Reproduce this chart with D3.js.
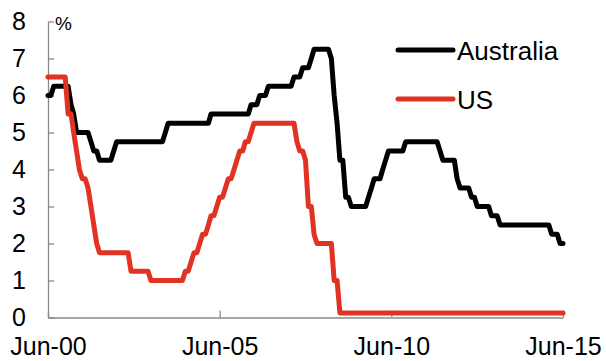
<!DOCTYPE html>
<html>
<head>
<meta charset="utf-8">
<script src="https://cdn.jsdelivr.net/npm/d3@7"></script>
<style>
  html, body { margin: 0; padding: 0; background: #fff; }
  svg { display: block; font-family: "Liberation Sans", Arial, sans-serif; }
</style>
</head>
<body>
<svg id="chart" width="606" height="361"></svg>
<script>
// ---- Data (monthly, Jun-2000 to Jun-2015) ----
const startMonth = "2000-06";
const australia = [
  // 2000 Jun-Dec
  6.0, 6.0, 6.25, 6.25, 6.25, 6.25, 6.25,
  // 2001
  6.25, 5.75, 5.5, 5.0, 5.0, 5.0, 5.0, 5.0, 4.75, 4.5, 4.5, 4.25,
  // 2002
  4.25, 4.25, 4.25, 4.25, 4.5, 4.75, 4.75, 4.75, 4.75, 4.75, 4.75, 4.75,
  // 2003
  4.75, 4.75, 4.75, 4.75, 4.75, 4.75, 4.75, 4.75, 4.75, 4.75, 5.0, 5.25,
  // 2004
  5.25, 5.25, 5.25, 5.25, 5.25, 5.25, 5.25, 5.25, 5.25, 5.25, 5.25, 5.25,
  // 2005
  5.25, 5.25, 5.5, 5.5, 5.5, 5.5, 5.5, 5.5, 5.5, 5.5, 5.5, 5.5,
  // 2006
  5.5, 5.5, 5.5, 5.5, 5.75, 5.75, 5.75, 6.0, 6.0, 6.0, 6.25, 6.25,
  // 2007
  6.25, 6.25, 6.25, 6.25, 6.25, 6.25, 6.25, 6.5, 6.5, 6.5, 6.75, 6.75,
  // 2008
  6.75, 7.0, 7.25, 7.25, 7.25, 7.25, 7.25, 7.25, 7.0, 6.0, 5.25, 4.25,
  // 2009
  4.25, 3.25, 3.25, 3.0, 3.0, 3.0, 3.0, 3.0, 3.0, 3.25, 3.5, 3.75,
  // 2010
  3.75, 3.75, 4.0, 4.25, 4.5, 4.5, 4.5, 4.5, 4.5, 4.5, 4.75, 4.75,
  // 2011
  4.75, 4.75, 4.75, 4.75, 4.75, 4.75, 4.75, 4.75, 4.75, 4.75, 4.5, 4.25,
  // 2012
  4.25, 4.25, 4.25, 4.25, 3.75, 3.5, 3.5, 3.5, 3.5, 3.25, 3.25, 3.0,
  // 2013
  3.0, 3.0, 3.0, 3.0, 2.75, 2.75, 2.75, 2.5, 2.5, 2.5, 2.5, 2.5,
  // 2014
  2.5, 2.5, 2.5, 2.5, 2.5, 2.5, 2.5, 2.5, 2.5, 2.5, 2.5, 2.5,
  // 2015 Jan-Jun
  2.5, 2.25, 2.25, 2.25, 2.0, 2.0
];
const us = [
  // 2000 Jun-Dec
  6.5, 6.5, 6.5, 6.5, 6.5, 6.5, 6.5,
  // 2001
  5.5, 5.5, 5.0, 4.5, 4.0, 3.75, 3.75, 3.5, 3.0, 2.5, 2.0, 1.75,
  // 2002
  1.75, 1.75, 1.75, 1.75, 1.75, 1.75, 1.75, 1.75, 1.75, 1.75, 1.25, 1.25,
  // 2003
  1.25, 1.25, 1.25, 1.25, 1.25, 1.0, 1.0, 1.0, 1.0, 1.0, 1.0, 1.0,
  // 2004
  1.0, 1.0, 1.0, 1.0, 1.0, 1.25, 1.25, 1.5, 1.75, 1.75, 2.0, 2.25,
  // 2005
  2.25, 2.5, 2.75, 2.75, 3.0, 3.25, 3.25, 3.5, 3.75, 3.75, 4.0, 4.25,
  // 2006
  4.5, 4.5, 4.75, 4.75, 5.0, 5.25, 5.25, 5.25, 5.25, 5.25, 5.25, 5.25,
  // 2007
  5.25, 5.25, 5.25, 5.25, 5.25, 5.25, 5.25, 5.25, 4.75, 4.5, 4.5, 4.25,
  // 2008
  3.0, 3.0, 2.25, 2.0, 2.0, 2.0, 2.0, 2.0, 2.0, 1.0, 1.0, 0.125,
  // 2009
  0.125, 0.125, 0.125, 0.125, 0.125, 0.125, 0.125, 0.125, 0.125, 0.125, 0.125, 0.125,
  // 2010
  0.125, 0.125, 0.125, 0.125, 0.125, 0.125, 0.125, 0.125, 0.125, 0.125, 0.125, 0.125,
  // 2011
  0.125, 0.125, 0.125, 0.125, 0.125, 0.125, 0.125, 0.125, 0.125, 0.125, 0.125, 0.125,
  // 2012
  0.125, 0.125, 0.125, 0.125, 0.125, 0.125, 0.125, 0.125, 0.125, 0.125, 0.125, 0.125,
  // 2013
  0.125, 0.125, 0.125, 0.125, 0.125, 0.125, 0.125, 0.125, 0.125, 0.125, 0.125, 0.125,
  // 2014
  0.125, 0.125, 0.125, 0.125, 0.125, 0.125, 0.125, 0.125, 0.125, 0.125, 0.125, 0.125,
  // 2015 Jan-Jun
  0.125, 0.125, 0.125, 0.125, 0.125, 0.125
];
const xTickLabels = ["Jun-00", "Jun-05", "Jun-10", "Jun-15"];
const yTicks = [0, 1, 2, 3, 4, 5, 6, 7, 8];
const seriesNames = ["Australia", "US"];
const seriesColors = ["#000000", "#e03323"];

// ---- Build ----
const parseMonth = d3.timeParse("%Y-%m");
const parseTick = d3.timeParse("%b-%y");
const start = parseMonth(startMonth);
const months = australia.map((_, i) => d3.timeMonth.offset(start, i));

const svg = d3.select("#chart");
const x = d3.scaleTime()
  .domain([start, months[months.length - 1]])
  .range([48, 563]);
const y = d3.scaleLinear().domain([0, 8]).range([317.5, 21.5]);

const axisColor = "#8a8a8a";

// Y axis
const gy = svg.append("g")
  .attr("transform", "translate(48,0)")
  .call(d3.axisLeft(y).tickValues(yTicks).tickSizeInner(-6).tickSizeOuter(0)
        .tickPadding(22).tickFormat(d3.format("d")));
gy.selectAll("path, line").attr("stroke", axisColor).attr("stroke-width", 1.3);
gy.selectAll("text").attr("font-size", 25).attr("fill", "#000")
  .attr("font-family", "'Liberation Sans', Arial, sans-serif");

// X axis
const gx = svg.append("g")
  .attr("transform", "translate(0,317.5)")
  .call(d3.axisBottom(x).tickValues(xTickLabels.map(parseTick)).tickSizeInner(-7)
        .tickSizeOuter(0).tickPadding(20).tickFormat(d3.timeFormat("%b-%y")));
gx.selectAll("path, line").attr("stroke", axisColor).attr("stroke-width", 1.3);
gx.selectAll("text").attr("font-size", 25).attr("fill", "#000")
  .attr("font-family", "'Liberation Sans', Arial, sans-serif");

// Unit label
svg.append("text")
  .attr("x", 55).attr("y", 30)
  .attr("font-size", 19).attr("fill", "#000")
  .text("%");

// Lines
const line = d3.line()
  .x((d, i) => x(months[i]))
  .y(d => y(d))
  .curve(d3.curveLinear);

[australia, us].forEach((vals, k) => {
  svg.append("path")
    .datum(vals)
    .attr("d", line)
    .attr("fill", "none")
    .attr("stroke", seriesColors[k])
    .attr("stroke-width", 5)
    .attr("stroke-linejoin", "round")
    .attr("stroke-linecap", "round");
});

// Legend
const legendY = [50, 99];
seriesNames.forEach((name, k) => {
  svg.append("line")
    .attr("x1", 398).attr("x2", 453)
    .attr("y1", legendY[k]).attr("y2", legendY[k])
    .attr("stroke", seriesColors[k]).attr("stroke-width", 5)
    .attr("stroke-linecap", "round");
  svg.append("text")
    .attr("x", 457).attr("y", legendY[k] + 9.5)
    .attr("font-size", 26).attr("fill", "#000")
    .text(name);
});
</script>
</body>
</html>
